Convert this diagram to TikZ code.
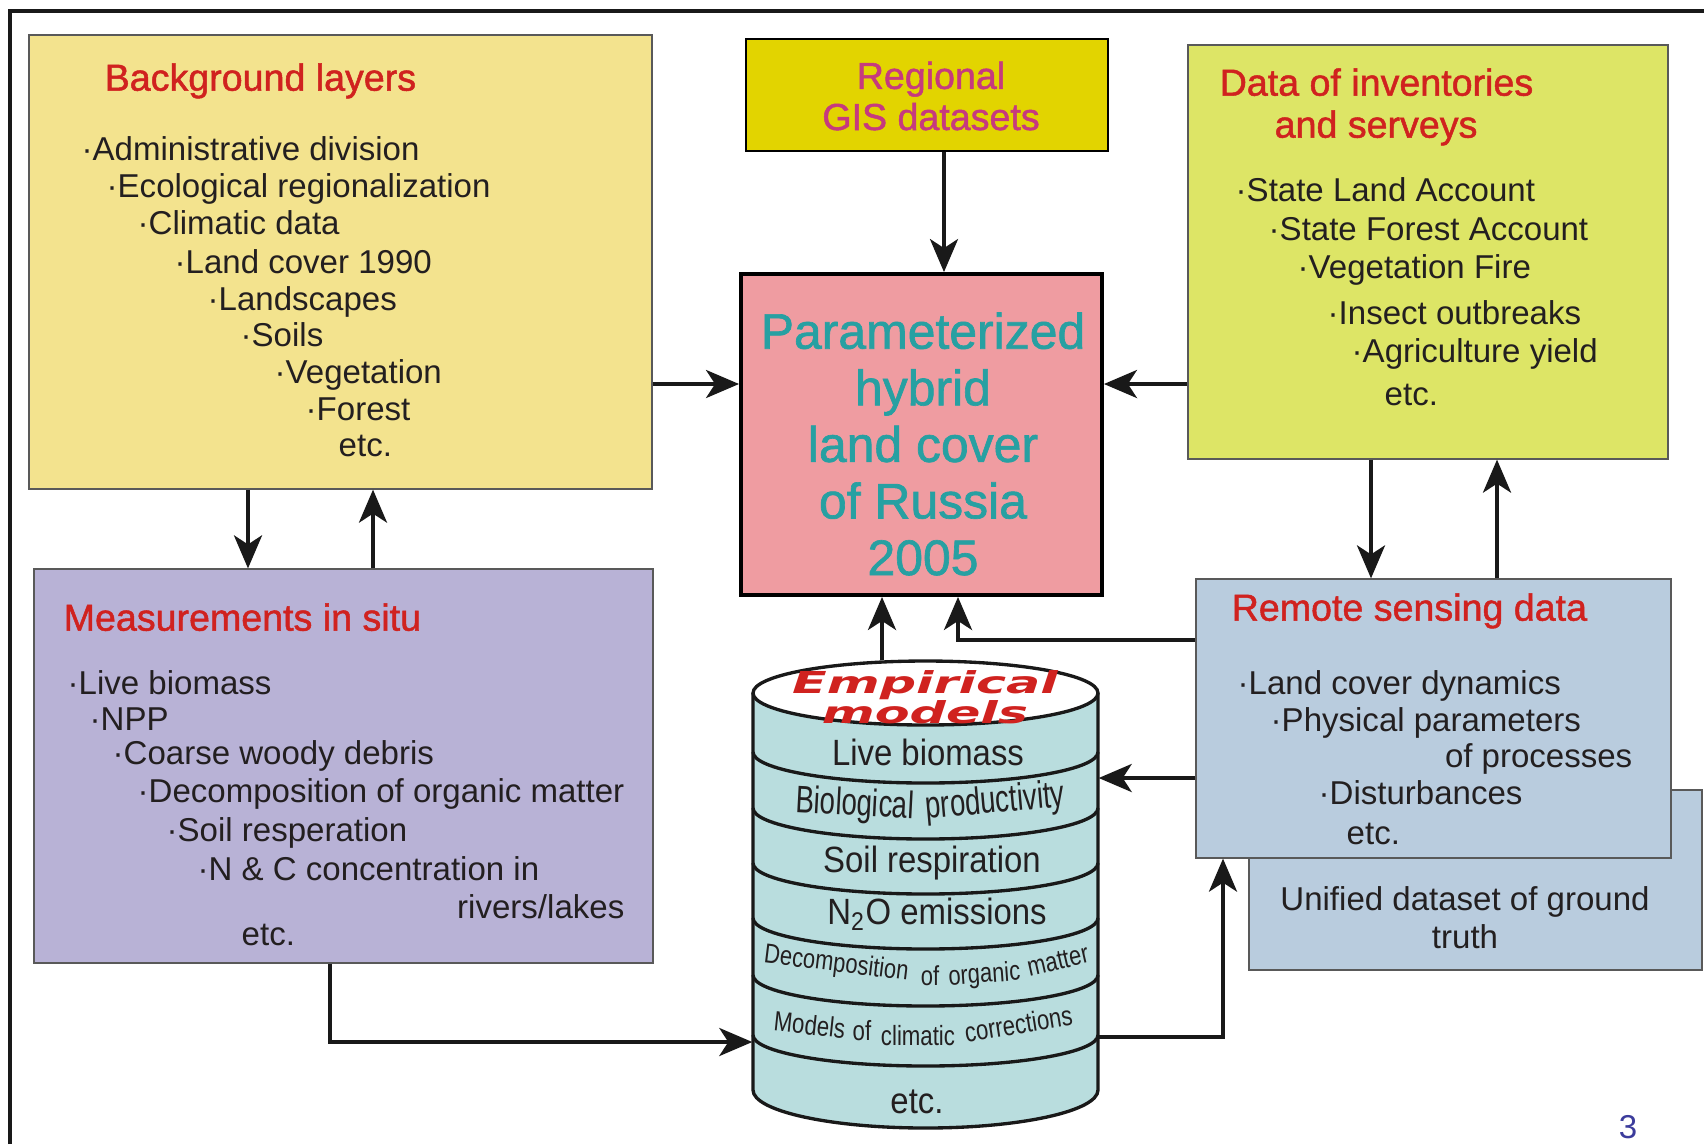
\documentclass[tikz,border=0pt]{standalone}
\usepackage{fontspec}
\setmainfont{Liberation Sans}
\newfontfamily\headfont[FakeBold=1.3]{Liberation Sans}
\newfontfamily\narrowfont[FakeStretch=0.8]{Liberation Sans}
\newfontfamily\tightfont[FakeStretch=0.72]{Liberation Sans}
\newfontfamily\cylfont[FakeStretch=0.9]{Liberation Sans}
\newfontfamily\empfont{DejaVu Sans}
\usepackage{tikz}
\usetikzlibrary{arrows.meta}
\usetikzlibrary{positioning}
\usetikzlibrary{fit}
\definecolor{bgfill}{HTML}{F3E38E}
\definecolor{regfill}{HTML}{E2D400}
\definecolor{parfill}{HTML}{EF9CA1}
\definecolor{invfill}{HTML}{DDE566}
\definecolor{measfill}{HTML}{B8B2D6}
\definecolor{rsfill}{HTML}{B9CCDE}
\definecolor{cylfill}{HTML}{B9DDDE}
\definecolor{txtcol}{HTML}{231F20}
\definecolor{headcol}{HTML}{D0221F}
\definecolor{regcol}{HTML}{C63A7E}
\definecolor{parcol}{HTML}{27A0A2}
\definecolor{numcol}{HTML}{3C3C9C}
\tikzset{panel/.style = {draw=black!65, line width=0.35pt, inner sep=0pt},
  itemtext/.style = {anchor=west, inner sep=0pt, text=txtcol, text height=0.72em, text depth=0pt, font=\fontsize{9.4}{11}\selectfont},
  headtext/.style = {anchor=west, inner sep=0pt, text=headcol, text height=0.72em, text depth=0pt, font=\headfont\fontsize{10.7}{12}\selectfont},
  cyltext/.style = {inner sep=0pt, text=txtcol, text height=0.72em, text depth=0pt, font=\cylfont\fontsize{10.4}{11}\selectfont},
  cylword/.style = {inner sep=0pt, text=txtcol, text height=0.72em, text depth=0pt, font=\narrowfont\fontsize{#1}{#1}\selectfont},
  emptext/.style = {inner sep=0pt, text=headcol, text height=0.72em, text depth=0pt, font=\empfont\bfseries\itshape\fontsize{8.6}{9}\selectfont},
  arr/.style = {-{Stealth[length=3.3mm,width=2.8mm,inset=0.9mm]}, line width=1.1pt, draw=black!90},
  cylline/.style = {line width=0.95pt, draw=black!90}}

\begin{document}
\begin{tikzpicture}[x=0.1mm,y=-0.1mm]
        \useasboundingbox (0,0) rectangle (1704,1144);
        \fill[white] (0,0) rectangle (1704,1144);
        \draw[line width=1.15pt, black!90] (10,1144) -- (10,11) -- (1704,11);

        \node[panel, fill=bgfill, fit={(29,35) (652,489)}] (bg) {};
        \node[panel, fill=regfill, draw=black, line width=0.6pt, fit={(746,39) (1108,151)}] (reg) {};
        \node[panel, fill=parfill, draw=black, line width=1.1pt, fit={(741,274) (1102,595)}] (par) {};
        \node[panel, fill=invfill, fit={(1188,45) (1668,459)}] (inv) {};
        \node[panel, fill=measfill, fit={(34,569) (653,963)}] (meas) {};
        \node[panel, fill=rsfill, fit={(1249,790) (1702,970)}] (unif) {};
        \node[panel, fill=rsfill, fit={(1196,579) (1671,858)}] (rs) {};

        \node[headtext] (bgtitle) at (104,78) {Background layers};
        \node[itemtext] (bg1) at (81,148) {·Administrative division};
        \node[itemtext] (bg2) at (106,185) {·Ecological regionalization};
        \node[itemtext] (bg3) at (137,222) {·Climatic data};
        \node[itemtext] (bg4) at (174,261) {·Land cover 1990};
        \node[itemtext] (bg5) at (207,298) {·Landscapes};
        \node[itemtext] (bg6) at (240,334) {·Soils};
        \node[itemtext] (bg7) at (274,371) {·Vegetation};
        \node[itemtext] (bg8) at (305,408) {·Forest};
        \node[itemtext] (bg9) at (338,444) {etc.};

        \node[align=center, inner sep=0pt, text=regcol, font=\headfont\fontsize{10.7}{11.7}\selectfont] (regtxt) at (931,96) {Regional\\GIS datasets};
        \node[align=center, inner sep=0pt, text=parcol, font=\headfont\fontsize{14.2}{16.1}\selectfont] (partxt) at (923,444) {Parameterized\\hybrid\\land cover\\of Russia\\2005};

        \node[headtext] (invtitle1) at (1219,83) {Data of inventories};
        \node[headtext] (invtitle2) at (1274,125) {and serveys};
        \node[itemtext] (inv1) at (1235,189) {·State Land Account};
        \node[itemtext] (inv2) at (1268,228) {·State Forest Account};
        \node[itemtext] (inv3) at (1297,266) {·Vegetation Fire};
        \node[itemtext] (inv4) at (1327,312) {·Insect outbreaks};
        \node[itemtext] (inv5) at (1351,350) {·Agriculture yield};
        \node[itemtext] (inv6) at (1384,393) {etc.};

        \node[headtext] (meastitle) at (63,618) {Measurements in situ};
        \node[itemtext] (meas1) at (67,682) {·Live biomass};
        \node[itemtext] (meas2) at (89,718) {·NPP};
        \node[itemtext] (meas3) at (112,752) {·Coarse woody debris};
        \node[itemtext] (meas4) at (137,790) {·Decomposition of organic matter};
        \node[itemtext] (meas5) at (166,829) {·Soil resperation};
        \node[itemtext] (meas6) at (197,868) {·N \& C concentration in};
        \node[itemtext, anchor=east] (meas7) at (625,906) {rivers/lakes};
        \node[itemtext] (meas8) at (241,933) {etc.};

        \node[headtext] (rstitle) at (1231,608) {Remote sensing data};
        \node[itemtext] (rs1) at (1237,682) {·Land cover dynamics};
        \node[itemtext] (rs2) at (1270,719) {·Physical parameters};
        \node[itemtext, anchor=east] (rs3) at (1633,755) {of processes};
        \node[itemtext] (rs4) at (1318,792) {·Disturbances};
        \node[itemtext] (rs5) at (1346,832) {etc.};
        \node[align=center, inner sep=0pt, text=txtcol, font=\fontsize{9.4}{10.8}\selectfont] (uniftxt) at (1465,918) {Unified dataset of ground\\truth};

        \fill[cylfill] (753,693) -- (753,1090) arc[start angle=180, end angle=0, x radius=172.5, y radius=38] -- (1098,693) -- cycle;
        \filldraw[fill=white, cylline] (925.5,693) ellipse [x radius=172.5, y radius=32];
        \draw[cylline] (753,693) -- (753,1090) arc[start angle=180, end angle=0, x radius=172.5, y radius=38] -- (1098,693);
        \foreach \yb in {752,808,863,918,975,1035}
            \draw[cylline] (753,\yb) arc[start angle=180, end angle=0, x radius=172.5, y radius=31];
        \node[inner sep=0pt, fit={(753,661) (1098,1128)}] (cyl) {};

        \node[emptext] (emp1) at (925,681) {\scalebox{1.68}[1]{Empirical}};
        \node[emptext] (emp2) at (925,711) {\scalebox{1.68}[1]{models}};
        \node[cyltext] (cyl1) at (928,753) {Live biomass};
        \node[cylword=10.9, rotate=-3, font=\tightfont\fontsize{10.9}{11}\selectfont] (bio1) at (855,803) {Biological};
        \node[cylword=10.9, rotate=5, font=\tightfont\fontsize{10.9}{11}\selectfont] (bio2) at (995,800) {productivity};
        \node[cyltext] (cyl3) at (932,860) {Soil respiration};
        \node[cyltext] (cyl4) at (937,912) {N\textsubscript{2}O emissions};
        \node[cylword=7.8, rotate=-7] (dec1) at (837,959) {Decomposition};
        \node[cylword=7.8] (dec2) at (930,973) {of};
        \node[cylword=7.8, rotate=4] (dec3) at (984,970) {organic};
        \node[cylword=7.8, rotate=13] (dec4) at (1057,957) {matter};
        \node[cylword=7.9, rotate=-6] (mod1) at (810,1022) {Models};
        \node[cylword=7.9] (mod2) at (862,1028) {of};
        \node[cylword=7.9] (mod3) at (918,1033) {climatic};
        \node[cylword=7.9, rotate=9] (mod4) at (1018,1021) {corrections};
        \node[cyltext] (cyl7) at (917,1101) {etc.};

        \node[inner sep=0pt, text=numcol, font=\fontsize{9.4}{10}\selectfont] (pagenum) at (1628,1127) {3};

        \draw[arr] (bg.east |- 0,384) -- (par.west |- 0,384);
        \draw[arr] (reg.south -| 944,0) -- (par.north -| 944,0);
        \draw[arr] (inv.west |- 0,384) -- (par.east |- 0,384);
        \draw[arr] (bg.south -| 248,0) -- (meas.north -| 248,0);
        \draw[arr] (meas.north -| 373,0) -- (bg.south -| 373,0);
        \draw[arr] (inv.south -| 1371,0) -- (rs.north -| 1371,0);
        \draw[arr] (rs.north -| 1497,0) -- (inv.south -| 1497,0);
        \draw[arr] (cyl.north -| 882,0) -- (par.south -| 882,0);
        \draw[arr] (rs.west |- 0,640) -| (par.south -| 958,0);
        \draw[arr] (rs.west |- 0,778) -- (cyl.east |- 0,778);
        \draw[arr] (meas.south -| 330,0) |- (cyl.west |- 0,1042);
        \draw[arr] (cyl.east |- 0,1037) -| (rs.south -| 1223,0);
    \end{tikzpicture}
\end{document}
